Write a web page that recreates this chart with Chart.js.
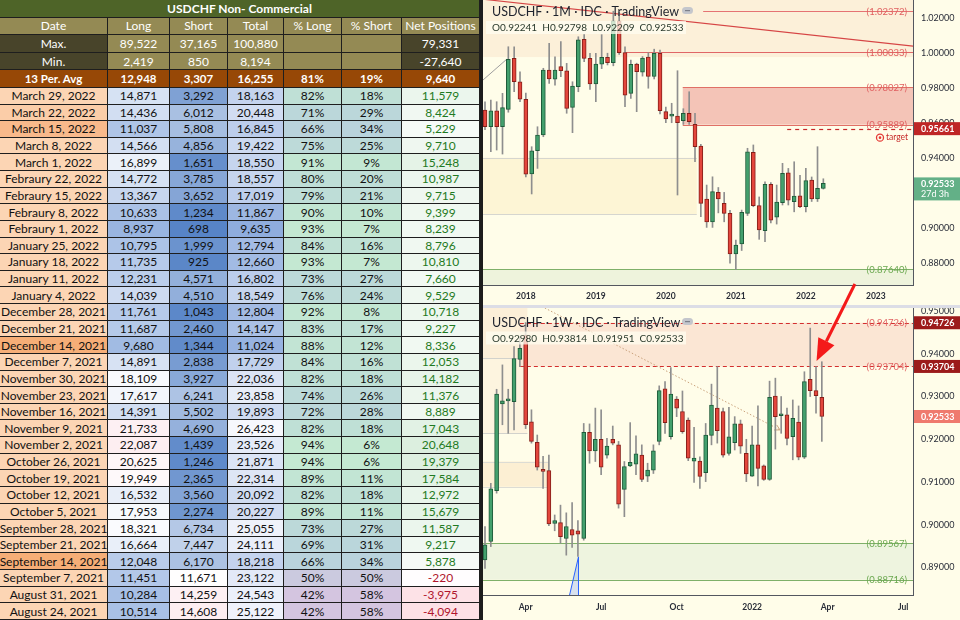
<!DOCTYPE html>
<html><head><meta charset="utf-8">
<script src="https://cdn.jsdelivr.net/npm/chart.js@4.4.1/dist/chart.umd.min.js"></script>
<style>
html,body{margin:0;padding:0;width:960px;height:620px;overflow:hidden;background:#fff;}
#tbl{position:absolute;left:0;top:0;width:480px;height:620px;display:grid;
 grid-template-columns:108px 62px 58px 56px 58px 60px 78px;
 grid-template-rows:repeat(5,17.58px) repeat(32,1fr);
 font-family:Lato,"Liberation Sans",sans-serif;font-size:12px;color:#111;background:#222;}
.c{display:flex;align-items:center;justify-content:center;border-right:1px solid #1e1e1e;border-bottom:1px solid #1e1e1e;box-sizing:border-box;white-space:nowrap;overflow:hidden;}
.title{grid-column:1 / span 7;background:#4e6428;color:#fff;font-weight:bold;}
.hd{background:#948a54;color:#fff;}
.dk{background:#48442a;color:#fff;}
.kh{background:#948a54;color:#fff;}
.avg{background:#974806;color:#fff;font-weight:bold;font-size:11.5px;}
#strip{position:absolute;left:480px;top:0;width:3px;height:620px;background:#1c1c1c;}
#right{position:absolute;left:483px;top:0;width:477px;height:620px;background:#fffde9;}
#cm{position:absolute;left:0;top:0;}
#cw{position:absolute;left:0;top:283px;z-index:2;}
</style></head>
<body>
<div id="tbl"></div>
<div id="strip"></div>
<div id="right">
<canvas id="cm" width="477" height="305"></canvas>
<canvas id="cw" width="477" height="337"></canvas>
</div>
<script>
// ================= TABLE DATA =================
const tableTitle = "USDCHF Non- Commercial";
const colHeaders = ["Date","Long","Short","Total","% Long","% Short","Net Positions"];
const summaryLabels = ["Max.","Min.","13 Per. Avg"];
const summaryLong = [89522, 2419, 12948];
const summaryShort = [37165, 850, 3307];
const summaryTotal = [100880, 8194, 16255];
const summaryPctLong = [null, null, 81];
const summaryPctShort = [null, null, 19];
const summaryNet = [79331, -27640, 9640];

const reportDates = ["March 29, 2022","March 22, 2022","March 15, 2022","March 8, 2022","March 1, 2022",
 "Febraury 22, 2022","Febraury 15, 2022","Febraury 8, 2022","Febraury 1, 2022",
 "January 25, 2022","January 18, 2022","January 11, 2022","January 4, 2022",
 "December 28, 2021","December 21, 2021","December 14, 2021","December 7, 2021",
 "November 30, 2021","November 23, 2021","November 16, 2021","November 9, 2021","November 2, 2021",
 "October 26, 2021","October 19, 2021","October 12, 2021","October 5, 2021",
 "September 28, 2021","September 21, 2021","September 14, 2021","September 7, 2021",
 "August 31, 2021","August 24, 2021"];
const longPos  = [14871,14436,11037,14566,16899,14772,13367,10633,8937,10795,11735,12231,14039,11761,11687,9680,14891,18109,17617,14391,21733,22087,20625,19949,16532,17953,18321,16664,12048,11451,10284,10514];
const shortPos = [3292,6012,5808,4856,1651,3785,3652,1234,698,1999,925,4571,4510,1043,2460,1344,2838,3927,6241,5502,4690,1439,1246,2365,3560,2274,6734,7447,6170,11671,14259,14608];
const totalPos = [18163,20448,16845,19422,18550,18557,17019,11867,9635,12794,12660,16802,18549,12804,14147,11024,17729,22036,23858,19893,26423,23526,21871,22314,20092,20227,25055,24111,18218,23122,24543,25122];
const pctLong  = [82,71,66,75,91,80,79,90,93,84,93,73,76,92,83,88,84,82,74,72,82,94,94,89,82,89,73,69,66,50,42,42];
const pctShort = [18,29,34,25,9,20,21,10,7,16,7,27,24,8,17,12,16,18,26,28,18,6,6,11,18,11,27,31,34,50,58,58];
const netPos   = [11579,8424,5229,9710,15248,10987,9715,9399,8239,8796,10810,7660,9529,10718,9227,8336,12053,14182,11376,8889,17043,20648,19379,17584,12972,15679,11587,9217,5878,-220,-3975,-4094];

// ================= MONTHLY CANDLES (USDCHF 1M) =================
const monthCats = ["Jun 2017","Jul 2017","Aug 2017","Sep 2017","Oct 2017","Nov 2017","Dec 2017",
 "Jan 2018","Feb 2018","Mar 2018","Apr 2018","May 2018","Jun 2018","Jul 2018","Aug 2018","Sep 2018","Oct 2018","Nov 2018","Dec 2018",
 "Jan 2019","Feb 2019","Mar 2019","Apr 2019","May 2019","Jun 2019","Jul 2019","Aug 2019","Sep 2019","Oct 2019","Nov 2019","Dec 2019",
 "Jan 2020","Feb 2020","Mar 2020","Apr 2020","May 2020","Jun 2020","Jul 2020","Aug 2020","Sep 2020","Oct 2020","Nov 2020","Dec 2020",
 "Jan 2021","Feb 2021","Mar 2021","Apr 2021","May 2021","Jun 2021","Jul 2021","Aug 2021","Sep 2021","Oct 2021","Nov 2021","Dec 2021",
 "Jan 2022","Feb 2022","Mar 2022","Apr 2022"];
const mOpen  = [0.9672,0.9577,0.9668,0.9577,0.9676,0.9968,0.9834,0.9734,0.9307,0.9440,0.9530,0.9901,0.9849,0.9920,0.9897,0.9688,0.9806,1.0077,0.9968,0.9821,0.9934,0.9974,0.9943,1.0180,1.0000,0.9768,0.9935,0.9889,0.9975,0.9864,0.9997,0.9663,0.9638,0.9638,0.9611,0.9654,0.9591,0.9467,0.9164,0.9034,0.9202,0.9139,0.9082,0.8850,0.8907,0.9082,0.9431,0.9126,0.8983,0.9248,0.9060,0.9143,0.9314,0.9149,0.9183,0.9120,0.9273,0.9164,0.92241];
const mHigh  = [0.9720,0.9730,0.9720,0.9768,1.0034,1.0034,0.9890,0.9770,0.9463,0.9577,0.9911,1.0054,0.9977,1.0063,0.9939,0.9834,1.0091,1.0103,0.9997,0.9997,1.0103,0.9997,1.0237,1.0230,1.0034,0.9958,0.9940,0.9978,1.0000,1.0020,1.0015,0.9690,0.9711,0.9897,0.9680,0.9777,0.9654,0.9477,0.9244,0.9291,0.9230,0.9202,0.9100,0.8930,0.9101,0.9454,0.9473,0.9176,0.9263,0.9258,0.9244,0.9368,0.9339,0.9377,0.9300,0.9339,0.9290,0.9463,0.92798];
const mLow   = [0.9560,0.9434,0.9444,0.9421,0.9660,0.9777,0.9720,0.9291,0.9193,0.9339,0.9520,0.9825,0.9815,0.9863,0.9654,0.9543,0.9777,0.9949,0.9790,0.9720,0.9909,0.9930,0.9925,0.9990,0.9691,0.9739,0.9663,0.9866,0.9797,0.9850,0.9650,0.9600,0.9600,0.9187,0.9590,0.9590,0.9377,0.9063,0.9002,0.9002,0.9085,0.9034,0.8797,0.8762,0.8870,0.9070,0.9120,0.8934,0.8920,0.9027,0.9021,0.9130,0.9130,0.9091,0.9115,0.9091,0.9150,0.9150,0.92209];
const mClose = [0.9577,0.9668,0.9577,0.9686,0.9962,0.9834,0.9734,0.9306,0.9440,0.9530,0.9901,0.9850,0.9901,0.9897,0.9682,0.9810,1.0073,0.9968,0.9821,0.9935,0.9974,0.9943,1.0180,1.0000,0.9758,0.9934,0.9891,0.9969,0.9864,0.9997,0.9669,0.9621,0.9650,0.9600,0.9654,0.9606,0.9463,0.9139,0.9034,0.9206,0.9164,0.9082,0.8850,0.8901,0.9088,0.9434,0.9126,0.8987,0.9248,0.9044,0.9147,0.9311,0.9158,0.9181,0.9120,0.9269,0.9164,0.9225,0.92533];
const monthTickIdx = [7,19,31,43,55,67];
const monthTickLabels = ["2018","2019","2020","2021","2022","2023"];
const monthPriceTicks = [0.88,0.90,0.92,0.94,0.96,0.98,1.00,1.02];
const monthLevels = [1.02372,1.00033,0.98027,0.95889,0.87640];
const monthTarget = 0.95661;

// ================= WEEKLY CANDLES (USDCHF 1W) =================
const weekCats = ["2021-02-15","2021-02-22","2021-03-01","2021-03-08","2021-03-15","2021-03-22","2021-03-29",
 "2021-04-05","2021-04-12","2021-04-19","2021-04-26","2021-05-03","2021-05-10","2021-05-17","2021-05-24","2021-05-31",
 "2021-06-07","2021-06-14","2021-06-21","2021-06-28","2021-07-05","2021-07-12","2021-07-19","2021-07-26",
 "2021-08-02","2021-08-09","2021-08-16","2021-08-23","2021-08-30","2021-09-06","2021-09-13","2021-09-20","2021-09-27",
 "2021-10-04","2021-10-11","2021-10-18","2021-10-25","2021-11-01","2021-11-08","2021-11-15","2021-11-22","2021-11-29",
 "2021-12-06","2021-12-13","2021-12-20","2021-12-27","2022-01-03","2022-01-10","2022-01-17","2022-01-24","2022-01-31",
 "2022-02-07","2022-02-14","2022-02-21","2022-02-28","2022-03-07","2022-03-14","2022-03-21","2022-03-28"];
const wOpen  = [0.8918,0.8961,0.9080,0.9283,0.9290,0.9288,0.9387,0.9444,0.9241,0.9193,0.9128,0.9127,0.9003,0.9005,0.8968,0.8989,0.8986,0.8968,0.9216,0.9173,0.9200,0.9163,0.9200,0.9187,0.9083,0.9138,0.9142,0.9163,0.9114,0.9128,0.9195,0.9318,0.9206,0.9294,0.9265,0.9245,0.9149,0.9149,0.9122,0.9209,0.9273,0.9265,0.9167,0.9192,0.9236,0.9167,0.9114,0.9187,0.9138,0.9106,0.9301,0.9255,0.9257,0.9206,0.9240,0.9158,0.9340,0.9314,0.92980];
const wHigh  = [0.8996,0.9097,0.9317,0.9374,0.9317,0.9417,0.9440,0.9473,0.9269,0.9210,0.9160,0.9163,0.9023,0.9046,0.9028,0.9052,0.9010,0.9237,0.9236,0.9273,0.9269,0.9202,0.9231,0.9195,0.9148,0.9239,0.9208,0.9187,0.9144,0.9187,0.9325,0.9335,0.9368,0.9300,0.9313,0.9250,0.9228,0.9159,0.9237,0.9329,0.9370,0.9273,0.9275,0.9253,0.9245,0.9200,0.9231,0.9278,0.9140,0.9336,0.9343,0.9300,0.9273,0.9292,0.9278,0.9358,0.9460,0.9370,0.93814];
const wLow   = [0.8898,0.8949,0.9074,0.9234,0.9214,0.9222,0.9370,0.9225,0.9191,0.9128,0.9085,0.8998,0.8986,0.8957,0.8929,0.8947,0.8926,0.8964,0.9144,0.9148,0.9117,0.9156,0.9187,0.9039,0.9019,0.9136,0.9117,0.9101,0.9101,0.9120,0.9187,0.9214,0.9200,0.9253,0.9214,0.9150,0.9099,0.9085,0.9101,0.9187,0.9191,0.9158,0.9163,0.9175,0.9167,0.9101,0.9113,0.9091,0.9104,0.9104,0.9177,0.9214,0.9187,0.9152,0.9152,0.9155,0.9300,0.9261,0.91951];
const wClose = [0.8953,0.9084,0.9306,0.9290,0.9292,0.9389,0.9413,0.9234,0.9195,0.9135,0.9125,0.9002,0.9010,0.8972,0.8996,0.8976,0.8978,0.9216,0.9173,0.9200,0.9135,0.9184,0.9191,0.9048,0.9136,0.9146,0.9166,0.9106,0.9128,0.9173,0.9314,0.9239,0.9306,0.9273,0.9218,0.9156,0.9156,0.9113,0.9210,0.9280,0.9220,0.9163,0.9206,0.9236,0.9184,0.9119,0.9187,0.9132,0.9106,0.9298,0.9253,0.9256,0.9202,0.9249,0.9158,0.9335,0.9314,0.9302,0.92533];
const weekTickIdx = [7,20,33,46,59,72];
const weekTickLabels = ["Apr","Jul","Oct","2022","Apr","Jul"];
const weekPriceTicks = [0.89,0.90,0.91,0.92,0.93,0.94,0.95];
const weekLevels = [0.94726,0.93704,0.89567,0.88716];

// ================= TABLE BUILD =================
const fmt = v => v.toLocaleString('en-US');
function hex2rgb(h){return [parseInt(h.slice(1,3),16),parseInt(h.slice(3,5),16),parseInt(h.slice(5,7),16)];}
function scale(stops, t){
  t=Math.max(0,Math.min(1,t));
  for(let i=1;i<stops.length;i++){ if(t<=stops[i][0]){ const a=stops[i-1],b=stops[i]; const f=(t-a[0])/(b[0]-a[0]||1); const A=hex2rgb(a[1]),B=hex2rgb(b[1]); return 'rgb('+A.map((v,k)=>Math.round(v+(B[k]-v)*f)).join(',')+')'; } }
  return stops[stops.length-1][1];
}
const norm = (arr,v)=>(v-Math.min(...arr))/(Math.max(...arr)-Math.min(...arr));
const tbl=document.getElementById('tbl');
function cell(txt,cls,style){const d=document.createElement('div');d.className='c '+(cls||'');d.textContent=txt;if(style)Object.assign(d.style,style);tbl.appendChild(d);return d;}
cell(tableTitle,'title');
colHeaders.forEach(h=>cell(h,'hd'));
for(let r=0;r<3;r++){
  const isAvg=r===2;
  cell(summaryLabels[r], isAvg?'avg':'dk');
  [summaryLong,summaryShort,summaryTotal].forEach(a=>cell(fmt(a[r]), isAvg?'avg':'kh'));
  cell(summaryPctLong[r]==null?'':summaryPctLong[r]+'%', isAvg?'avg':'kh');
  cell(summaryPctShort[r]==null?'':summaryPctShort[r]+'%', isAvg?'avg':'kh');
  cell(fmt(summaryNet[r]), isAvg?'avg':'dk');
}
const dateShade={2:'#f8b98b',15:'#f6ae77',28:'#f6ae77',1:'#fbcda8'};
const pctStops=[[0,'#d4c5e0'],[0.45,'#b9d3dc'],[1,'#c4e9d2']];
reportDates.forEach((d,i)=>{
  cell(d,'',{background:dateShade[i]||'#fcd5b4'});
  cell(fmt(longPos[i]),'',{background:scale([[0,'#99b5e1'],[0.75,'#ffffff'],[1,'#fdeef1']],norm(longPos,longPos[i]))});
  cell(fmt(shortPos[i]),'',{background:scale([[0,'#5784c7'],[0.78,'#ffffff'],[1,'#fdeef1']],norm(shortPos,shortPos[i]))});
  cell(fmt(totalPos[i]),'',{background:scale([[0,'#8fadde'],[1,'#f7f8fd']],norm(totalPos,totalPos[i]))});
  cell(pctLong[i]+'%','',{background:scale(pctStops,norm(pctLong,pctLong[i]))});
  cell(pctShort[i]+'%','',{background:scale(pctStops,1-norm(pctShort,pctShort[i]))});
  const n=netPos[i];
  const bg=n>=0?scale([[0,'#ffffff'],[1,'#dcefdf']],n/Math.max(...netPos)):scale([[0,'#ffffff'],[1,'#fde1e6']],n/Math.min(...netPos));
  cell(fmt(n),'',{background:bg,color:n>=0?'#1f7a22':'#b0142c'});
});

// ================= CHART HELPERS =================
const UP_FILL='#43a06d', UP_EDGE='#1f5b3a', DN_FILL='#e3463c', DN_EDGE='#861f19', WICK='#8e8e8e';
const FONT='Lato, "Liberation Sans", sans-serif';
function candleSets(O,H,L,C){
  const up=O.map((o,i)=>C[i]>=o);
  return [
    {type:'bar',label:'body',data:O.map((o,i)=>({x:i,y:[o,C[i]]})),
     backgroundColor:up.map(u=>u?UP_FILL:DN_FILL),borderColor:up.map(u=>u?UP_EDGE:DN_EDGE),
     borderWidth:1,borderSkipped:false,barThickness:4,minBarLength:2,grouped:false,order:0},
    {type:'bar',label:'wick',data:L.map((l,i)=>({x:i,y:[l,H[i]]})),
     backgroundColor:WICK,barThickness:1,grouped:false,order:1}
  ];
}
function scalesCfg(xmin,xmax,ymin,ymax,xIdx,xLab,yTicks,xH,xPad){
  return {
    x:{type:'linear',min:xmin,max:xmax,offset:false,
       grid:{display:false,drawTicks:false},border:{display:true,color:'#54575f',width:1},
       afterBuildTicks:ax=>{ax.ticks=xIdx.map(v=>({value:v}));},
       afterFit:ax=>{ax.height=xH;ax.paddingLeft=0;ax.paddingRight=0;},
       ticks:{autoSkip:false,maxRotation:0,minRotation:0,padding:xPad,color:'#2a2e39',
              font:{family:FONT,size:8.5,weight:'bold'},
              callback:v=>{const k=xIdx.indexOf(v);return k>=0?xLab[k]:'';}}},
    y:{type:'linear',position:'right',min:ymin,max:ymax,
       grid:{display:false,drawTicks:false},border:{display:true,color:'#54575f',width:1},
       afterBuildTicks:ax=>{ax.ticks=yTicks.map(v=>({value:v}));},
       afterFit:ax=>{ax.width=47;ax.paddingTop=0;ax.paddingBottom=0;},
       ticks:{padding:8,color:'#2a2e39',font:{family:FONT,size:9},callback:v=>v.toFixed(5)}}
  };
}
function hLineY(y,v){return Math.round(y.getPixelForValue(v))+0.5;}
function drawZones(ctx,x,y,zones){
  zones.forEach(z=>{
    const x0=x.getPixelForValue(z.x0),x1=x.getPixelForValue(z.x1);
    const y0=y.getPixelForValue(z.to),y1=y.getPixelForValue(z.from);
    ctx.fillStyle=z.fill;ctx.fillRect(x0,y0,x1-x0,y1-y0);
    if(z.edge){ctx.strokeStyle=z.edge;ctx.lineWidth=1;ctx.setLineDash([]);ctx.beginPath();
      ctx.moveTo(x0,Math.round(y0)+.5);ctx.lineTo(x1,Math.round(y0)+.5);
      ctx.moveTo(x0,Math.round(y1)+.5);ctx.lineTo(x1,Math.round(y1)+.5);ctx.stroke();}
  });
}
function drawLines(ctx,x,y,lines){
  lines.forEach(l=>{
    ctx.strokeStyle=l.color;ctx.lineWidth=l.w||1;ctx.setLineDash(l.dash||[]);ctx.beginPath();
    const yy=hLineY(y,l.v);ctx.moveTo(x.getPixelForValue(l.x0),yy);ctx.lineTo(x.getPixelForValue(l.x1),yy);ctx.stroke();
  });
  ctx.setLineDash([]);
}
function drawSegs(ctx,x,y,segs){
  segs.forEach(s=>{
    ctx.strokeStyle=s.color;ctx.lineWidth=s.w||1;ctx.setLineDash(s.dash||[]);ctx.beginPath();
    const ax=x.getPixelForValue(s.a[0]),ay=y.getPixelForValue(s.a[1]),bx=x.getPixelForValue(s.b[0]),by=y.getPixelForValue(s.b[1]);
    ctx.moveTo(ax,ay);ctx.lineTo(bx,by);ctx.stroke();ctx.setLineDash([]);
    if(s.head){const ang=Math.atan2(by-ay,bx-ax);ctx.beginPath();
      ctx.moveTo(bx-6*Math.cos(ang-0.5),by-6*Math.sin(ang-0.5));ctx.lineTo(bx,by);ctx.lineTo(bx-6*Math.cos(ang+0.5),by-6*Math.sin(ang+0.5));ctx.stroke();}
  });
}
function levelLabels(ctx,a,y,labels){
  ctx.font='9.5px '+FONT;ctx.textAlign='right';ctx.textBaseline='middle';
  labels.forEach(l=>{ctx.fillStyle=l.color;ctx.fillText('('+l.v.toFixed(5)+')',a.right-6,y.getPixelForValue(l.v)+0.5);});
}
function priceBox(ctx,a,y,v,bg,extra){
  const py=y.getPixelForValue(v);
  const h=extra?23:13, top=extra?py-6:py-6.5;
  ctx.fillStyle=bg;ctx.fillRect(a.right+1,top,46,h);
  ctx.fillStyle='#fff';ctx.font='bold 9px '+FONT;ctx.textAlign='left';ctx.textBaseline='middle';
  ctx.fillText(v.toFixed(5),a.right+8,py+0.5);
  if(extra){ctx.font='9px '+FONT;ctx.fillText(extra,a.right+8,py+11);}
}
function legend(ctx,l1,l2,y1,y2,pillY){
  ctx.fillStyle='rgba(255,253,240,0.75)';ctx.fillRect(3,y2-10,200,13);
  ctx.textAlign='left';ctx.textBaseline='alphabetic';
  ctx.fillStyle='#1e222d';ctx.font='12.5px '+FONT;ctx.fillText(l1,9,y1);
  ctx.fillStyle='#2a3a2c';ctx.font='10px '+FONT;ctx.fillText(l2,9,y2);
  ctx.fillStyle='#c4c6cc';ctx.beginPath();ctx.roundRect(199,pillY,11,7,3.5);ctx.fill();
  ctx.fillStyle='#7d808a';ctx.fillRect(202,pillY+3,5,1.2);
}
const ohlcText=(O,H,L,C)=>'O'+O.toFixed(5)+'  H'+H.toFixed(5)+'  L'+L.toFixed(5)+'  C'+C.toFixed(5);

// ================= MONTHLY CHART =================
const mLast=mClose.length-1;
const monthAnno={
  zones:[
    {from:0.9975,to:1.04,x0:-1,x1:80,fill:'#fcf0d9'},
    {from:0.9077,to:0.9400,x0:-1,x1:36.3,fill:'#fdf5d5',edge:'#d6d6cf'},
    {from:0.86,to:monthLevels[4],x0:-1,x1:80,fill:'#eef3dc'},
    {from:monthLevels[3],to:monthLevels[2],x0:33.9,x1:80,fill:'#f4c4b7',edge:'#e07066'}
  ],
  lines:[
    {v:monthLevels[0],x0:37.4,x1:80,color:'#e57373'},
    {v:monthLevels[1],x0:24.0,x1:80,color:'#e06666'},
    {v:monthLevels[4],x0:-1,x1:80,color:'#7fb069',w:1.2},
    {v:monthTarget,x0:51.8,x1:80,color:'#c62828',dash:[4,4],w:1.2}
  ],
  segs:[
    {a:[0,1.0304],b:[73.4,1.0038],color:'#d64545',w:1.2},
    {a:[-0.34,0.9844],b:[3.77,0.9964],color:'#9e9e9e',w:1}
  ],
  labels:[
    {v:monthLevels[0],color:'#e06060'},{v:monthLevels[1],color:'#e06060'},
    {v:monthLevels[2],color:'#e06060'},{v:monthLevels[3],color:'#e06060'},
    {v:monthLevels[4],color:'#6aa84f'}
  ]
};
new Chart(document.getElementById('cm'),{
  type:'bar',
  data:{labels:monthCats,datasets:candleSets(mOpen,mHigh,mLow,mClose)},
  options:{responsive:false,animation:false,events:[],
    layout:{padding:0},
    plugins:{legend:{display:false},tooltip:{enabled:false}},
    scales:scalesCfg(-0.343,73.37,0.8673,1.0301,monthTickIdx,monthTickLabels,monthPriceTicks,20,6)},
  plugins:[{id:'mAnno',
    beforeDatasetsDraw(chart){const {ctx,chartArea:a,scales:{x,y}}=chart;ctx.save();ctx.beginPath();ctx.rect(a.left,a.top,a.right-a.left,a.bottom-a.top);ctx.clip();
      drawZones(ctx,x,y,monthAnno.zones);drawLines(ctx,x,y,monthAnno.lines);drawSegs(ctx,x,y,monthAnno.segs);ctx.restore();},
    afterDatasetsDraw(chart){const {ctx,chartArea:a,scales:{x,y}}=chart;ctx.save();
      levelLabels(ctx,a,y,monthAnno.labels);
      const ty=y.getPixelForValue(monthTarget)+9;
      ctx.strokeStyle='#e53935';ctx.lineWidth=1.3;ctx.beginPath();ctx.arc(a.right-33,ty,3.5,0,Math.PI*2);ctx.stroke();
      ctx.fillStyle='#e53935';ctx.beginPath();ctx.arc(a.right-33,ty,1.3,0,Math.PI*2);ctx.fill();
      ctx.font='8.5px '+FONT;ctx.textAlign='left';ctx.textBaseline='middle';ctx.fillStyle='#c62828';ctx.fillText('target',a.right-27,ty);
      legend(ctx,'USDCHF · 1M · IDC · TradingView',ohlcText(mOpen[mLast],mHigh[mLast],mLow[mLast],mClose[mLast]),16,31,7);
      ctx.restore();},
    afterDraw(chart){const {ctx,chartArea:a,scales:{y}}=chart;ctx.save();
      priceBox(ctx,a,y,monthTarget,'#bf2626');
      priceBox(ctx,a,y,mClose[mLast],'#63b087','27d 3h');
      ctx.restore();}
  }]
});

// ================= WEEKLY CHART =================
const wLast=wClose.length-1;
const weekAnno={
  zones:[
    {from:0.9389,to:0.96,x0:-1,x1:7.3,fill:'#fcefd8'},
    {from:0.9214,to:0.9389,x0:-1,x1:7.3,fill:'#fdf4df',edge:'#d2d2cc'},
    {from:0.9089,to:0.9148,x0:-1,x1:11,fill:'#fcefd3',edge:'#dcdcd4'},
    {from:weekLevels[1],to:weekLevels[0],x0:6.0,x1:80,fill:'#fbe6d4'},
    {from:weekLevels[3],to:weekLevels[2],x0:-1,x1:80,fill:'#eef4df'}
  ],
  lines:[
    {v:weekLevels[0],x0:6.0,x1:80,color:'#d32f2f',dash:[4,3],w:1.2},
    {v:weekLevels[1],x0:6.0,x1:80,color:'#d32f2f',dash:[4,3],w:1.2},
    {v:weekLevels[2],x0:-1,x1:80,color:'#7fb069',w:1.2},
    {v:weekLevels[3],x0:-1,x1:80,color:'#7fb069',w:1.2}
  ],
  segs:[
    {a:[10.3,0.95071],b:[50.8,0.9222],color:'#c9a27c',w:1,dash:[1.5,2],head:true}
  ],
  labels:[
    {v:weekLevels[0],color:'#e06060'},{v:weekLevels[1],color:'#e06060'},
    {v:weekLevels[2],color:'#6aa84f'},{v:weekLevels[3],color:'#6aa84f'}
  ],
  tri:[[14.5,0.8832],[16.1,0.8925],[16.1,0.8832]],
  arrow:{tail:[63.7,0.95633],tip:[57.09,0.93832]}
};
new Chart(document.getElementById('cw'),{
  type:'bar',
  data:{labels:weekCats,datasets:candleSets(wOpen,wHigh,wLow,wClose)},
  options:{responsive:false,animation:false,events:[],
    layout:{padding:{top:22,left:0,right:0,bottom:0}},
    plugins:{legend:{display:false},tooltip:{enabled:false}},
    scales:scalesCfg(-0.344,73.70,0.88358,0.95141,weekTickIdx,weekTickLabels,weekPriceTicks,25,7)},
  plugins:[{id:'wAnno',
    beforeDatasetsDraw(chart){const {ctx,chartArea:a,scales:{x,y}}=chart;ctx.save();ctx.beginPath();ctx.rect(a.left,a.top,a.right-a.left,a.bottom-a.top);ctx.clip();
      drawZones(ctx,x,y,weekAnno.zones);drawLines(ctx,x,y,weekAnno.lines);drawSegs(ctx,x,y,weekAnno.segs);
      ctx.beginPath();weekAnno.tri.forEach((p,i)=>{const px=x.getPixelForValue(p[0]),py=y.getPixelForValue(p[1]);i?ctx.lineTo(px,py):ctx.moveTo(px,py);});ctx.closePath();
      ctx.fillStyle='rgba(41,98,255,0.18)';ctx.fill();ctx.strokeStyle='#2962ff';ctx.lineWidth=1;ctx.stroke();
      ctx.restore();},
    afterDatasetsDraw(chart){const {ctx,chartArea:a,scales:{x,y}}=chart;ctx.save();
      levelLabels(ctx,a,y,weekAnno.labels);
      legend(ctx,'USDCHF · 1W · IDC · TradingView',ohlcText(wOpen[wLast],wHigh[wLast],wLow[wLast],wClose[wLast]),43.5,58.5,35);
      ctx.restore();},
    afterDraw(chart){const {ctx,chartArea:a,scales:{x,y}}=chart;ctx.save();
      ctx.strokeStyle='#dcdde6';ctx.lineWidth=3;ctx.beginPath();ctx.moveTo(0,a.top+1.5);ctx.lineTo(chart.width,a.top+1.5);ctx.stroke();
      priceBox(ctx,a,y,weekLevels[0],'#9c1b1b');
      priceBox(ctx,a,y,weekLevels[1],'#9c1b1b');
      priceBox(ctx,a,y,wClose[wLast],'#ef7a6e');
      const t=weekAnno.arrow, tx=x.getPixelForValue(t.tail[0]),ty=y.getPixelForValue(t.tail[1]),px=x.getPixelForValue(t.tip[0]),py=y.getPixelForValue(t.tip[1]);
      const ang=Math.atan2(py-ty,px-tx), L=22, W=9;
      const bx=px-L*Math.cos(ang), by=py-L*Math.sin(ang);
      ctx.strokeStyle='#f41a1a';ctx.lineWidth=3;ctx.beginPath();ctx.moveTo(tx,ty);ctx.lineTo(bx,by);ctx.stroke();
      ctx.fillStyle='#f41a1a';ctx.beginPath();ctx.moveTo(px,py);
      ctx.lineTo(bx+W*Math.cos(ang+Math.PI/2),by+W*Math.sin(ang+Math.PI/2));
      ctx.lineTo(bx+W*Math.cos(ang-Math.PI/2),by+W*Math.sin(ang-Math.PI/2));ctx.closePath();ctx.fill();
      ctx.restore();}
  }]
});
</script>
</body></html>
